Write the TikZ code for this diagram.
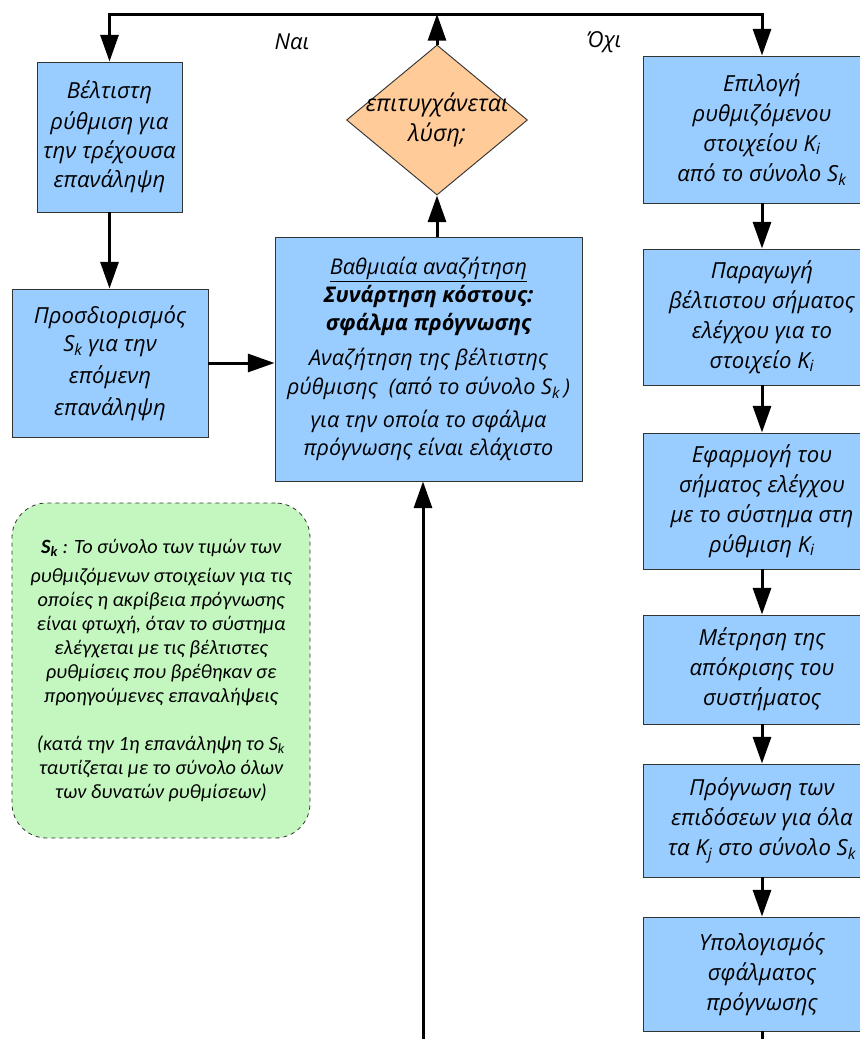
\documentclass[tikz,border=0pt]{standalone}
\usepackage{fontspec}
\setmainfont{Open Sans}
\newfontfamily\notefont{Carlito}
\usetikzlibrary{arrows.meta,shapes.geometric}

\definecolor{boxblue}{HTML}{99CCFF}
\definecolor{decorange}{HTML}{FFCC99}
\definecolor{notegreen}{HTML}{C4F7C0}
\definecolor{edgegray}{HTML}{333333}

\tikzset{
  flow/.style={line width=2.25pt, -{Triangle[length=20pt,width=13.5pt]}},
  plain/.style={line width=2.25pt},
  stepbox/.style={draw=edgegray, fill=boxblue, line width=0.7pt, inner sep=0pt,
    align=center, font=\itshape\fontsize{16.6}{21}\selectfont},
  rightbox/.style={stepbox, font=\itshape\fontsize{16.6}{22.5}\selectfont},
  widebox/.style={stepbox, font=\itshape\fontsize{16.2}{21}\selectfont},
  decision/.style={diamond, draw=edgegray, fill=decorange, line width=0.7pt,
    inner sep=0pt},
  decisiontext/.style={align=center, font=\itshape\fontsize{17.4}{22.5}\selectfont},
  notebox/.style={draw=edgegray, dashed, fill=notegreen, line width=0.6pt,
    rounded corners=26pt, inner sep=0pt, align=center,
    font=\notefont\itshape\fontsize{15.2}{18}\selectfont},
  answer/.style={font=\itshape\fontsize{16.5}{18}\selectfont},
}

\begin{document}
\begin{tikzpicture}[x=0.75pt,y=-0.75pt]
\useasboundingbox (0,0) rectangle (860,1039);
\clip (0,0) rectangle (860,1039);

% left column
\node[stepbox, minimum width=108.75pt, minimum height=112.5pt] (b1) at (109.5,137)
  {Βέλτιστη\\[2pt] ρύθμιση για\\[1pt] την τρέχουσα\\[1pt] επανάληψη};
\node[stepbox, minimum width=147pt, minimum height=111pt] (b2) at (110,363)
  {Προσδιορισμός\\ S\textsubscript{k} για την\\[3pt] επόμενη\\[3pt] επανάληψη};

% central search box and decision
\node[widebox, minimum width=230.25pt, minimum height=183pt] (c) at (428.5,359)
  {\underline{Βαθμιαία αναζήτηση}\\
   \textbf{Συνάρτηση κόστους:}\\
   \textbf{σφάλμα πρόγνωσης}\\[5pt]
   Αναζήτηση της βέλτιστης\\[1pt]
   ρύθμισης\ \ (από το σύνολο S\textsubscript{k}\,)\\[4pt]
   για την οποία το σφάλμα\\
   πρόγνωσης είναι ελάχιστο};
\node[decision, minimum width=135.75pt, minimum height=112.5pt] (d) at (437,120) {};
\node[decisiontext] (dt) at (d.center) {επιτυγχάνεται\\λύση;};

% note on the set S_k
\node[notebox, minimum width=223.5pt, minimum height=251.25pt] (n) at (161,670.5)
  {\textbf{S\textsubscript{k}} : Το σύνολο των τιμών των\\[4pt]
   ρυθμιζόμενων στοιχείων για τις\\
   οποίες η ακρίβεια πρόγνωσης\\
   είναι φτωχή, όταν το σύστημα\\
   ελέγχεται με τις βέλτιστες\\
   ρυθμίσεις που βρέθηκαν σε\\
   προηγούμενες επαναλήψεις\\[18pt]
   (κατά την 1η επανάληψη το S\textsubscript{k}\\
   ταυτίζεται με το σύνολο όλων\\
   των δυνατών ρυθμίσεων)};

% right column
\node[rightbox, minimum width=178.5pt, minimum height=110.25pt] (r1) at (762,129.5)
  {Επιλογή\\ ρυθμιζόμενου\\ στοιχείου K\textsubscript{i}\\ από το σύνολο S\textsubscript{k}};
\node[rightbox, minimum width=178.5pt, minimum height=102pt] (r2) at (762,317)
  {Παραγωγή\\ βέλτιστου σήματος\\ ελέγχου για το\\ στοιχείο K\textsubscript{i}};
\node[rightbox, minimum width=178.5pt, minimum height=102pt] (r3) at (762,501)
  {Εφαρμογή του\\ σήματος ελέγχου\\ με το σύστημα στη\\ ρύθμιση K\textsubscript{i}};
\node[rightbox, minimum width=178.5pt, minimum height=81.75pt] (r4) at (762,669.5)
  {Μέτρηση της\\ απόκρισης του\\ συστήματος};
\node[rightbox, minimum width=178.5pt, minimum height=84.75pt] (r5) at (762,820.5)
  {Πρόγνωση των\\ επιδόσεων για όλα\\ τα K\textsubscript{j} στο σύνολο S\textsubscript{k}};
\node[rightbox, minimum width=178.5pt, minimum height=85.5pt] (r6) at (762,974)
  {Υπολογισμός\\ σφάλματος\\ πρόγνωσης};

% answer labels
\node[answer] (yes) at (292,42) {Ναι};
\node[answer] (no) at (604,42) {Όχι};

% connectors
\coordinate (top) at (437,14);
\coordinate (bin) at (423,1039);
\coordinate (rout) at (762,1039);
\draw[flow] (d.north) -- (top);
\draw[flow] (top) -| (b1.north);
\draw[flow] (top) -| (r1.north);
\draw[flow] (b1.south) -- (b1.south |- b2.north);
\draw[flow] (b2.east) -- (b2.east -| c.west);
\draw[flow] (d.south |- c.north) -- (d.south);
\draw[flow] (bin) -- (bin |- c.south);
\draw[flow] (r1) -- (r2);
\draw[flow] (r2) -- (r3);
\draw[flow] (r3) -- (r4);
\draw[flow] (r4) -- (r5);
\draw[flow] (r5) -- (r6);
\draw[plain] (r6.south) -- (rout);
\end{tikzpicture}
\end{document}
